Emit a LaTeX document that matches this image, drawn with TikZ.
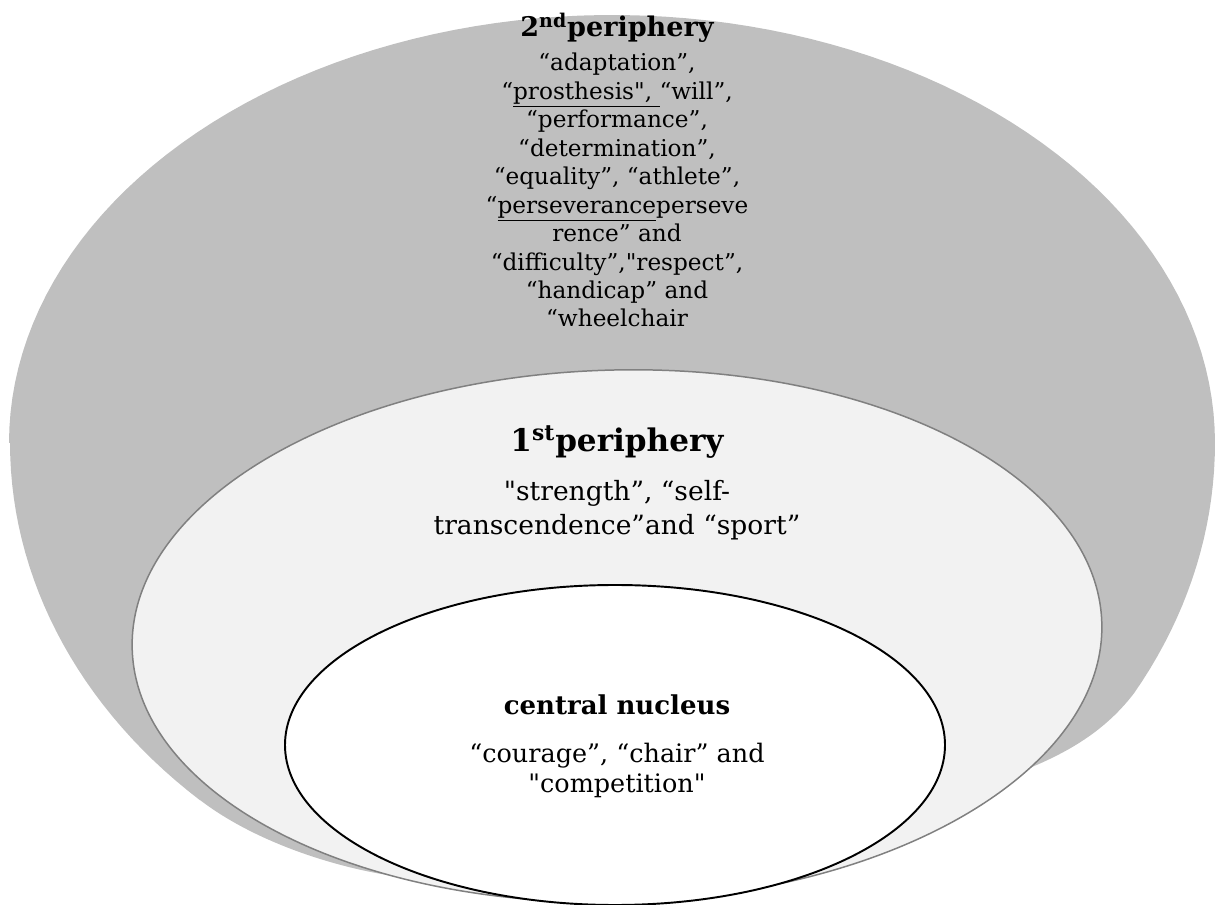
\documentclass[tikz,border=0pt]{standalone}
\usepackage{fontspec}
\setmainfont{DejaVu Serif}[Ligatures=TeXOff]
\usepackage{tikz}
\usetikzlibrary{positioning}
\definecolor{ringouter}{RGB}{191,191,191}
\definecolor{ringmid}{RGB}{242,242,242}
\definecolor{ringline}{RGB}{128,128,128}
\tikzset{
  ringtitle/.style={inner sep=0pt, anchor=base,
                    font=\bfseries\fontsize{#1}{#1}\selectfont},
  ringtext/.style 2 args={align=center, inner sep=0pt,
                    font=\fontsize{#1}{#2}\selectfont},
  midring/.style={fill=ringmid, draw=ringline, line width=0.85pt},
  corering/.style={fill=white, draw=black, line width=1.1pt},
}
\begin{document}
\begin{tikzpicture}[x=0.02cm, y=-0.02cm]
  \clip (0,0) rectangle (1215,905);
  % outer ring (2nd periphery)
  \fill[ringouter]
    plot[domain=180:0, samples=90] ({612+603*cos(\x)}, {443-428*sin(\x)})
    -- plot[domain=0:-30, samples=20] ({612+603*cos(\x)}, {443-500*sin(\x)})
    .. controls (1100,738) and (1055,758) .. (1015,774)
    -- (900,830) -- (617,878) -- (410,878)
    .. controls (350,872) and (260,846) .. (200,800)
    -- plot[domain=226.8:180, samples=30] ({612+602*cos(\x)}, {443-490*sin(\x)})
    -- cycle;
  % 1st periphery and core
  \draw[midring, rotate around={1.5:(617,636)}] (617,636) ellipse [x radius=485, y radius=266];
  \draw[corering] (615,745) ellipse [x radius=330, y radius=160];

  \node[ringtitle=15.4] (p2title) at (617,37) {2\textsuperscript{nd}periphery};
  \node[ringtext={13.2}{16.2}, below=5.8cm of p2title.base, anchor=base] (p2text)
    {“adaptation”,\\
     “\underline{prosthesis", }“will”,\\
     “performance”,\\
     “determination”,\\
     “equality”, “athlete”,\\
     “\underline{perseverance}perseve\\
     rence” and\\
     “difficulty”,"respect”,\\
     “handicap” and\\
     “wheelchair};

  \node[ringtitle=17.7] (p1title) at (617,452) {1\textsuperscript{st}periphery};
  \node[ringtext={15.1}{19.9}, below=1.66cm of p1title.base, anchor=base] (p1text)
    {"strength”, “self-\\
     transcendence”and “sport”};

  \node[ringtitle=14.8] (coretitle) at (617,715) {central nucleus};
  \node[ringtext={14.5}{17.6}, below=1.56cm of coretitle.base, anchor=base] (coretext)
    {“courage”, “chair” and\\
     "competition"};
\end{tikzpicture}
\end{document}
